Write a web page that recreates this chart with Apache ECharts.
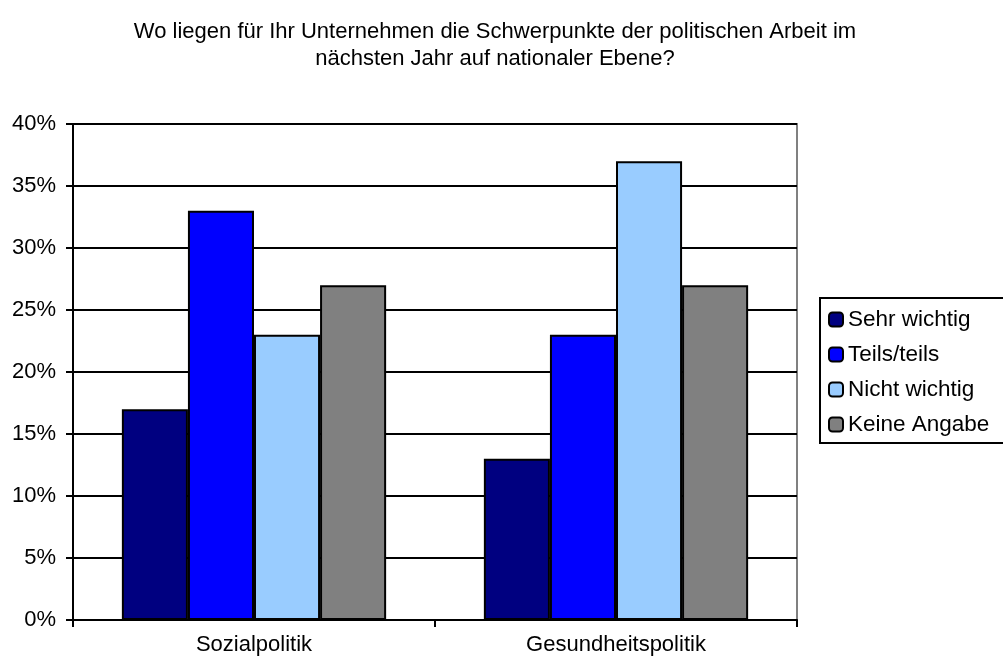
<!DOCTYPE html>
<html>
<head>
<meta charset="utf-8">
<script src="https://cdn.jsdelivr.net/npm/echarts@6/dist/echarts.min.js"></script>
<style>
  html, body { margin: 0; padding: 0; background: #fff; }
  #chart { width: 1003px; height: 663px; }
</style>
</head>
<body>
<div id="chart"></div>
<script>
// Kategorien und Werte (Prozent)
const categories = ['Sozialpolitik', 'Gesundheitspolitik']
const seriesNames = ['Sehr wichtig', 'Teils/teils', 'Nicht wichtig', 'Keine Angabe']
const sehrWichtig = [17, 13]
const teilsTeils = [33, 23]
const nichtWichtig = [23, 37]
const keineAngabe = [27, 27]
const colors = ['#000080', '#0000ff', '#99ccff', '#808080']

const chart = echarts.init(document.getElementById('chart'))
const font = 'Liberation Sans, Arial, sans-serif'

const values = [sehrWichtig, teilsTeils, nichtWichtig, keineAngabe]
const series = seriesNames.map((name, i) => ({
  name: name,
  type: 'bar',
  data: values[i],
  barGap: '0%',
  barCategoryGap: '27%',
  itemStyle: { color: colors[i], borderColor: '#000', borderWidth: 2 }
}))

chart.setOption({
  animation: false,
  backgroundColor: '#fff',
  title: {
    text: 'Wo liegen für Ihr Unternehmen die Schwerpunkte der politischen Arbeit im\nnächsten Jahr auf nationaler Ebene?',
    left: 490,
    top: 13,
    textAlign: 'center',
    textStyle: { fontFamily: font, fontSize: 22, fontWeight: 'normal', color: '#000', lineHeight: 27 }
  },
  legend: {
    orient: 'vertical',
    left: 820,
    top: 298,
    padding: [10, 40, 7, 8],
    itemGap: 12,
    itemWidth: 14,
    itemHeight: 14,
    borderColor: '#000',
    borderWidth: 2,
    textStyle: { fontFamily: font, fontSize: 22.5, color: '#000', padding: [0, 0, 0, 0] },
    data: seriesNames
  },
  grid: {
    left: 73,
    right: 206,
    top: 124,
    bottom: 43,
    show: true,
    borderColor: '#808080',
    borderWidth: 2
  },
  xAxis: {
    type: 'category',
    data: categories,
    axisLine: { lineStyle: { color: '#000', width: 2 } },
    axisTick: { show: true, length: 7, lineStyle: { color: '#000', width: 2 } },
    axisLabel: { fontFamily: font, fontSize: 22, color: '#000', margin: 14 }
  },
  yAxis: {
    type: 'value',
    min: 0,
    max: 40,
    interval: 5,
    axisLine: { show: true, lineStyle: { color: '#000', width: 2 } },
    axisTick: { show: true, length: 7, lineStyle: { color: '#000', width: 2 } },
    axisLabel: { formatter: '{value}%', fontFamily: font, fontSize: 22, color: '#000', margin: 17 },
    splitLine: { lineStyle: { color: '#000', width: 2 } }
  },
  series: series
})
</script>
</body>
</html>
